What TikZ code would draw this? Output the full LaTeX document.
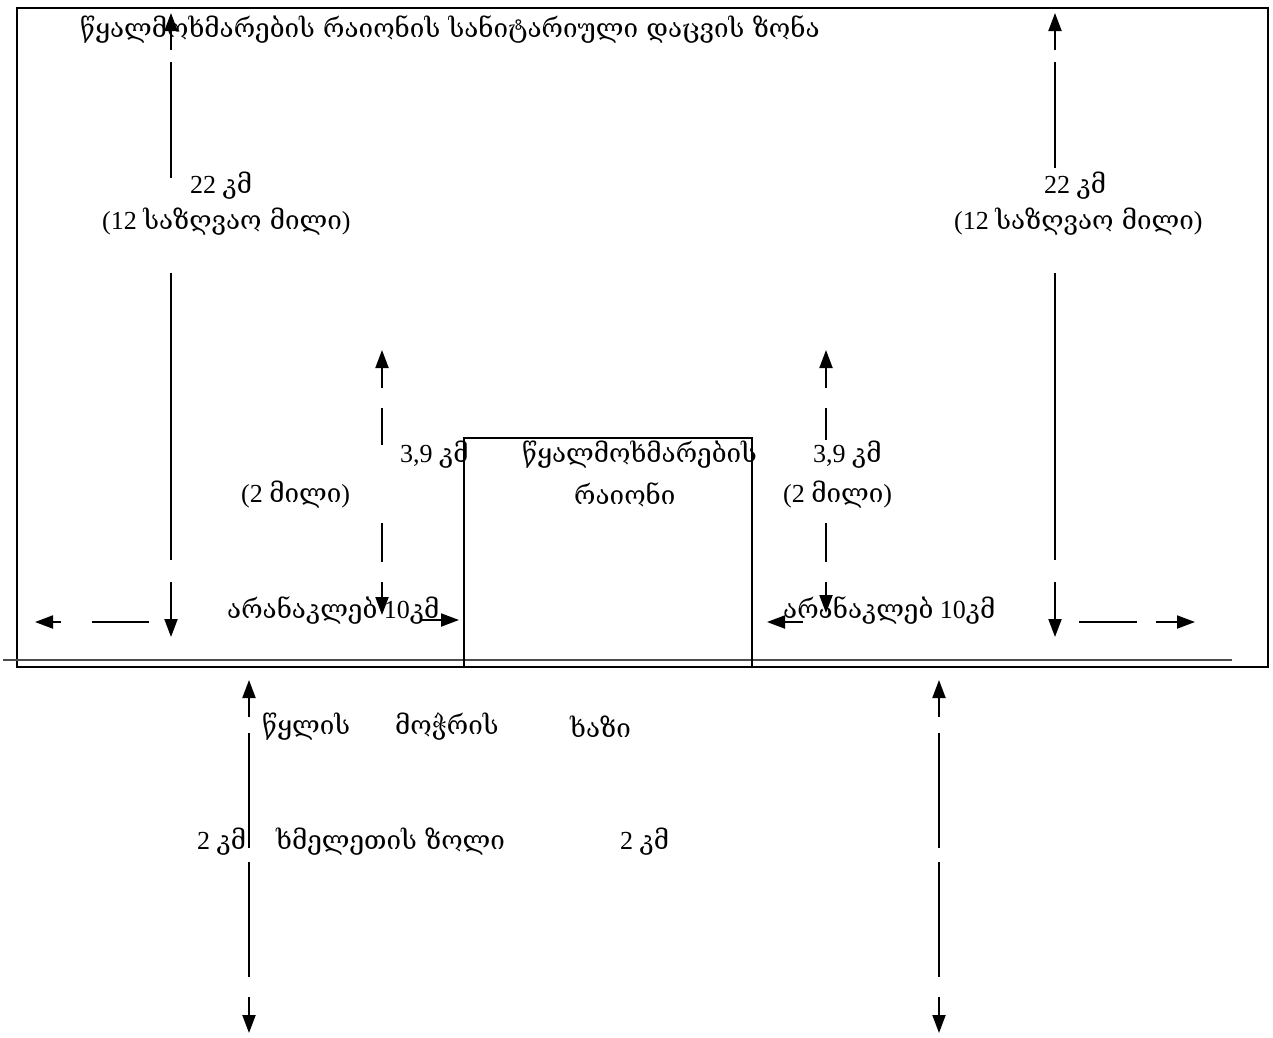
\documentclass[tikz,border=0pt]{standalone}
\usepackage{fontspec}
\setmainfont{Liberation Serif}
\newfontfamily\geo{DejaVu Serif}
\usetikzlibrary{arrows.meta}
\tikzset{
  dimline/.style={line width=1.3pt},
  dimarrow/.style={line width=2pt,-{Triangle[length=18pt,width=13pt]}},
  lbl/.style={inner sep=0pt,anchor=west,font=\fontsize{26}{30}\selectfont},
  frame/.style={line width=2.6pt},
}
\begin{document}
\begin{tikzpicture}[x=1pt,y=-1pt]
\useasboundingbox (0,0) rectangle (1273,1037);
% outer frame and water line
\draw[frame] (17,8) rectangle (1268,667);
\draw[line width=2pt,black!70] (3,660) -- (1232,660);
% inner rectangle
\draw[line width=1.5pt] (464,668) -- (464,438) -- (752,438) -- (752,668);

% left 22 km
\draw[dimarrow] (171,50) -- (171,13);
\draw[dimline] (171,62) -- (171,178);
\draw[dimline] (171,273) -- (171,560);
\draw[dimarrow] (171,582) -- (171,637);
% right 22 km
\draw[dimarrow] (1055,50) -- (1055,13);
\draw[dimline] (1055,62) -- (1055,168);
\draw[dimline] (1055,273) -- (1055,560);
\draw[dimarrow] (1055,582) -- (1055,637);
% left 3.9 km
\draw[dimarrow] (382,388) -- (382,350);
\draw[dimline] (382,408) -- (382,445);
\draw[dimline] (382,523) -- (382,562);
\draw[dimarrow] (382,582) -- (382,615);
% right 3.9 km
\draw[dimarrow] (826,388) -- (826,350);
\draw[dimline] (826,408) -- (826,440);
\draw[dimline] (826,523) -- (826,562);
\draw[dimarrow] (826,582) -- (826,613);
% horizontals
\draw[dimarrow] (61,622) -- (35,622);
\draw[dimline] (92,622) -- (149,622);
\draw[dimarrow] (420,620) -- (459,620);
\draw[dimarrow] (803,622) -- (767,622);
\draw[dimline] (1079,622) -- (1137,622);
\draw[dimarrow] (1156,622) -- (1195,622);
% lower verticals
\foreach \xx in {249,939}{
  \draw[dimarrow] (\xx,717) -- (\xx,680);
  \draw[dimline] (\xx,733) -- (\xx,848);
  \draw[dimline] (\xx,862) -- (\xx,977);
  \draw[dimarrow] (\xx,997) -- (\xx,1033);
}

% texts
\node[lbl] (title) at (80,30) {\geo წყალმოხმარების რაიონის სანიტარიული დაცვის ზონა};
\node[lbl] (l22) at (190,186) {22 {\geo კმ}};
\node[lbl] (l12) at (102,222) {(12 {\geo საზღვაო მილი})};
\node[lbl] (r22) at (1044,186) {22 {\geo კმ}};
\node[lbl] (r12) at (954,222) {(12 {\geo საზღვაო მილი})};
\node[lbl] (l39) at (400,455) {3,9 {\geo კმ}};
\node[lbl] (l2) at (241,495) {(2 {\geo მილი})};
\node[lbl] (r39) at (813,455) {3,9 {\geo კმ}};
\node[lbl] (r2) at (783,495) {(2 {\geo მილი})};
\node[lbl] (area1) at (522,455) {\geo წყალმოხმარების};
\node[lbl] (area2) at (574,495) {\geo რაიონი};
\node[lbl] (lmin) at (227,610) {{\geo არანაკლებ} 10{\geo კმ}};
\node[lbl] (rmin) at (783,610) {{\geo არანაკლებ} 10{\geo კმ}};
\node[lbl] (w1) at (262,727) {\geo წყლის};
\node[lbl] (w2) at (395,727) {\geo მოჭრის};
\node[lbl] (w3) at (570,727) {\geo ხაზი};
\node[lbl] (b2l) at (197,842) {2 {\geo კმ}};
\node[lbl] (strip) at (276,842) {\geo ხმელეთის ზოლი};
\node[lbl] (b2r) at (620,842) {2 {\geo კმ}};
\end{tikzpicture}
\end{document}
